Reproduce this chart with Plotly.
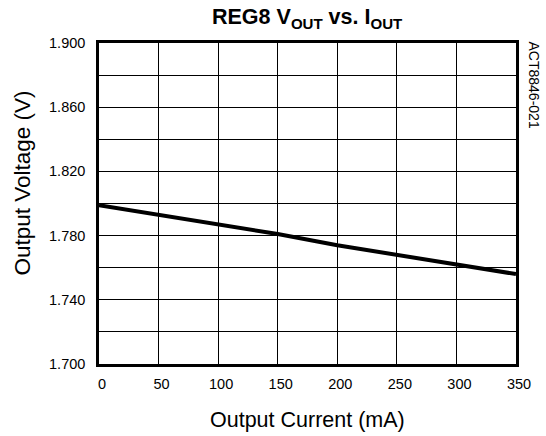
import plotly.graph_objects as go

current_ma = [0, 50, 100, 150, 200, 250, 300, 350]
voltage_v = [1.799, 1.793, 1.787, 1.781, 1.774, 1.768, 1.762, 1.756]

x_ticks = [0, 50, 100, 150, 200, 250, 300, 350]
y_ticks = [1.70, 1.74, 1.78, 1.82, 1.86, 1.90]
y_labels = ["1.700", "1.740", "1.780", "1.820", "1.860", "1.900"]

FONT = "Liberation Sans, Arial, sans-serif"

fig = go.Figure()
fig.add_trace(go.Scatter(x=current_ma, y=voltage_v, mode="lines",
                         line=dict(color="black", width=4), showlegend=False))

fig.update_layout(
    width=546, height=436,
    margin=dict(l=99, r=30, t=43, b=72),
    paper_bgcolor="white", plot_bgcolor="white",
    font=dict(family=FONT, color="black", size=15),
    xaxis=dict(range=[0, 350], tickvals=x_ticks, showgrid=True, gridcolor="black",
               gridwidth=1, showline=True, linecolor="black", linewidth=2.5, mirror=True,
               zeroline=False, ticks="", tickfont=dict(size=14.5),
               ticklabelstandoff=5, ticklabelshift=3),
    yaxis=dict(range=[1.70, 1.90], tickvals=y_ticks, ticktext=y_labels, showgrid=True,
               gridcolor="black", gridwidth=1, showline=True, linecolor="black",
               linewidth=2.5, mirror=True, zeroline=False, ticks="", tickfont=dict(size=14.5),
               ticklabelstandoff=8,
               minor=dict(dtick=0.02, showgrid=True, gridcolor="black", gridwidth=1, ticks="")),
    annotations=[
        dict(text="<b>REG8 V<sub>OUT</sub> vs. I<sub>OUT</sub></b>", xref="paper", yref="paper",
             x=0.5, y=1.0, yshift=25, showarrow=False, font=dict(size=21.5), xanchor="center",
             yanchor="middle"),
        dict(text="Output Current (mA)", xref="paper", yref="paper", x=0.5, y=0,
             yshift=-56, xanchor="center", yanchor="middle", showarrow=False,
             font=dict(size=21.5)),
        dict(text="Output Voltage (V)", xref="paper", yref="paper", x=0, xshift=-77,
             y=0.5, yshift=20, xanchor="center", yanchor="middle", showarrow=False,
             textangle=-90, font=dict(size=22.5)),
        dict(text="ACT8846-021", xref="paper", yref="paper", x=1.0, xshift=18, y=1.0,
             yshift=4, yanchor="top", xanchor="center", showarrow=False, textangle=90,
             font=dict(size=14)),
    ],
)

fig.write_html("out.html", post_script="document.body.style.margin='0';",
               config={"displayModeBar": False})
